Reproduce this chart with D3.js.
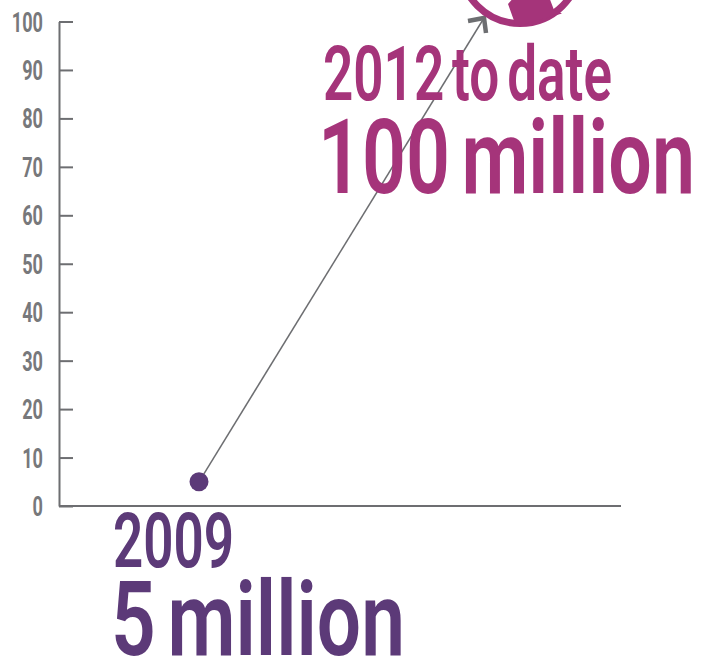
<!DOCTYPE html>
<html>
<head>
<meta charset="utf-8">
<style>
html,body{margin:0;padding:0;background:#fff}
svg{display:block}
text{font-family:"Roboto","Liberation Sans",sans-serif}
</style>
<script src="https://cdn.jsdelivr.net/npm/d3@7"></script>
</head>
<body>
<svg id="chart" width="710" height="659"></svg>
<script>
const years = [2009, 2012];
const users = [5, 100];
const yTicks = [0, 10, 20, 30, 40, 50, 60, 70, 80, 90, 100];
const periodLabels = ["2009", "2012 to date"];
const amountLabels = ["5 million", "100 million"];

const GREY = "#6d6e71", LABEL = "#77787b", PURPLE = "#5c3a78", MAGENTA = "#a5347a";

const svg = d3.select("#chart");
const y = d3.scaleLinear().domain([0, 100]).range([506, 21.5]);
const x = d3.scaleLinear().domain(years).range([199, 484]);

// Left axis with inward ticks; numerals are squeezed horizontally
const TICK_SQUEEZE = 0.67;
const axis = d3.axisLeft(y).tickValues(yTicks).tickSize(-14).tickSizeOuter(0).tickFormat(d3.format("d"));
const gAxis = svg.append("g").attr("transform", "translate(59,0)").call(axis);
gAxis.select(".domain").attr("stroke", GREY).attr("stroke-width", 2);
gAxis.selectAll(".tick line").attr("stroke", GREY).attr("stroke-width", 2);
gAxis.selectAll(".tick text")
  .attr("x", 0).attr("dy", 0)
  .attr("transform", `translate(-16,9.5) scale(${TICK_SQUEEZE},1)`)
  .attr("fill", LABEL).attr("font-size", 27).attr("font-weight", 700)
  .attr("text-anchor", "end");

// Baseline
svg.append("line").attr("x1", 59).attr("x2", 621).attr("y1", y(0)).attr("y2", y(0))
  .attr("stroke", GREY).attr("stroke-width", 2);

// Growth line with open arrowhead
const tip = [x(years[1]), y(users[1]) - 3.5];
svg.append("line").attr("x1", x(years[0])).attr("y1", y(users[0]))
  .attr("x2", tip[0]).attr("y2", tip[1]).attr("stroke", GREY).attr("stroke-width", 1.5);
svg.append("path")
  .attr("d", d3.line()([[tip[0] - 16, tip[1] + 3], tip, [tip[0] + 2, tip[1] + 15]]))
  .attr("fill", "none").attr("stroke", GREY).attr("stroke-width", 4.5);

// Starting point
svg.append("circle").attr("cx", x(years[0])).attr("cy", y(users[0])).attr("r", 9.5).attr("fill", PURPLE);

// Globe emblem, cut off by the top edge
const globe = svg.append("g").attr("transform", "translate(520,-36.5)");
globe.append("circle").attr("r", 60).attr("fill", "#fff").attr("stroke", MAGENTA).attr("stroke-width", 7);
const land = [[-8, 36], [-12, 40.5], [-5, 60], [0, 62], [42, 50], [34, 46.5], [30, 36]];
globe.append("path").attr("d", d3.line()(land) + "Z").attr("fill", MAGENTA);

// Big condensed captions, each stretched to a target width
function caption(str, left, baseline, size, width, fill) {
  const t = svg.append("text")
    .attr("font-size", size).attr("font-weight", 600).attr("fill", fill)
    .style("word-spacing", "-0.1em")
    .text(str);
  const sx = width / t.node().getBBox().width;
  t.attr("transform", `translate(${left},${baseline}) scale(${sx},1)`);
}
caption(periodLabels[0], 113, 567, 76, 121, PURPLE);
caption(amountLabels[0], 111, 655, 104, 294, PURPLE);
caption(periodLabels[1], 323, 100, 76, 289, MAGENTA);
caption(amountLabels[1], 318, 193, 104, 377, MAGENTA);
</script>
</body>
</html>
